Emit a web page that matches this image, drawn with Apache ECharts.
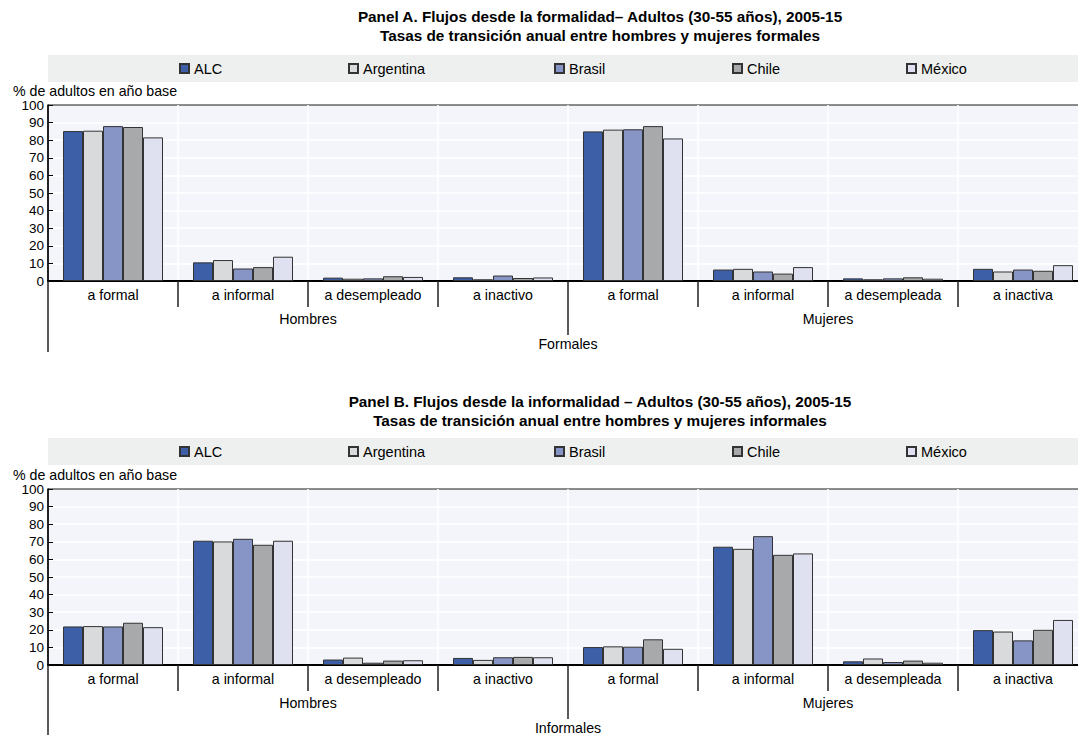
<!DOCTYPE html>
<html><head><meta charset="utf-8">
<script src="https://cdn.jsdelivr.net/npm/echarts@6/dist/echarts.min.js"></script>
<style>html,body{margin:0;padding:0;background:#fff}#c{width:1078px;height:735px}</style>
</head><body><div id="c"></div>
<script>
// ---- data ----
const categories = ['a formal','a informal','a desempleado','a inactivo','a formal','a informal','a desempleada','a inactiva'];
const groups = ['Hombres','Mujeres'];
const seriesNames = ['ALC','Argentina','Brasil','Chile','México'];
const yTicks = {min:0, max:100, step:10};
const titleA = ['Panel A. Flujos desde la formalidad– Adultos (30-55 años), 2005-15','Tasas de transición anual entre hombres y mujeres formales'];
const titleB = ['Panel B. Flujos desde la informalidad – Adultos (30-55 años), 2005-15','Tasas de transición anual entre hombres y mujeres informales'];
const yName = '% de adultos en año base';
const outerA = 'Formales';
const outerB = 'Informales';

const panelA_ALC       = [85.2, 10.6, 1.9, 2.1, 85.0, 6.5, 1.5, 6.9];
const panelA_Argentina = [85.4, 11.9, 1.3, 1.0, 86.0, 6.9, 1.0, 5.4];
const panelA_Brasil    = [88.0,  7.1, 1.5, 3.1, 86.2, 5.4, 1.5, 6.5];
const panelA_Chile     = [87.5,  7.9, 2.7, 1.7, 88.0, 4.2, 2.1, 5.8];
const panelA_Mexico    = [81.6, 13.8, 2.3, 2.0, 81.0, 7.9, 1.3, 9.0];

const panelB_ALC       = [21.9, 70.6, 3.1, 4.0, 10.2, 67.2, 2.1, 19.8];
const panelB_Argentina = [22.1, 70.2, 4.2, 2.9, 10.6, 66.0, 3.7, 19.0];
const panelB_Brasil    = [21.9, 71.7, 1.3, 4.4, 10.4, 73.2, 1.7, 14.0];
const panelB_Chile     = [24.0, 68.3, 2.5, 4.6, 14.6, 62.6, 2.5, 20.0];
const panelB_Mexico    = [21.5, 70.6, 2.7, 4.4,  9.2, 63.4, 1.3, 25.6];

// ---- style ----
const colors = ['#3c5fa7','#d9dadc','#8794c6','#a8a9ab','#dfe1f0'];
const FONT = "'Liberation Sans',Arial,sans-serif";
const panels = [
  {top:105, title:titleA, titleY:9, bandY:55, legendTop:61, outer:outerA, data:[panelA_ALC,panelA_Argentina,panelA_Brasil,panelA_Chile,panelA_Mexico]},
  {top:489, title:titleB, titleY:394, bandY:438, legendTop:444, outer:outerB, data:[panelB_ALC,panelB_Argentina,panelB_Brasil,panelB_Chile,panelB_Mexico]}
];
const legendX = [179, 348, 554, 732, 906];

const grid = [], xAxis = [], yAxis = [], series = [], legend = [], graphic = [];
panels.forEach((p, i) => {
  grid.push({left:48, width:1040, top:p.top, height:176, outerBoundsMode:'none', containLabel:false, show:true, backgroundColor:'#f4f5fa', borderColor:'#1a1a1a', borderWidth:1});
  const tickStyle = {color:'#222', width:1.5};
  xAxis.push({type:'category', gridIndex:i, data:categories, position:'bottom',
    axisLine:{lineStyle:{color:'#000', width:2}},
    axisTick:{show:true, interval:0, length:26, lineStyle:tickStyle},
    axisLabel:{interval:0, margin:7, fontSize:14.2, color:'#000', fontFamily:FONT},
    splitLine:{show:true, interval:0, showMinLine:false, showMaxLine:false, lineStyle:{color:'#ffffff', width:1.5}}});
  xAxis.push({type:'category', gridIndex:i, data:groups, position:'bottom', offset:26,
    axisLine:{show:false},
    axisTick:{show:true, interval:0, length:28, lineStyle:tickStyle},
    axisLabel:{interval:0, margin:5, fontSize:14.2, color:'#000', fontFamily:FONT},
    splitLine:{show:false}});
  xAxis.push({type:'category', gridIndex:i, data:[p.outer], position:'bottom', offset:54,
    axisLine:{show:false},
    axisTick:{show:true, interval:0, length:17, lineStyle:tickStyle},
    axisLabel:{interval:0, margin:2, fontSize:14.2, color:'#000', fontFamily:FONT},
    splitLine:{show:false}});
  yAxis.push({type:'value', gridIndex:i, min:yTicks.min, max:yTicks.max, interval:yTicks.step,
    axisLine:{show:true, lineStyle:{color:'#000', width:1.5}},
    axisTick:{show:true, inside:true, length:5, lineStyle:{color:'#000', width:1}},
    axisLabel:{fontSize:13.5, margin:4, color:'#000', fontFamily:FONT},
    splitLine:{show:true, showMinLine:false, showMaxLine:false, lineStyle:{color:'#ffffff', width:1.5}}});
  seriesNames.forEach((name, k) => {
    series.push({type:'bar', name, xAxisIndex:i*3, yAxisIndex:i, data:p.data[k],
      barWidth:20, barGap:'0%',
      itemStyle:{color:colors[k], borderColor:'#333', borderWidth:1}});
    legend.push({data:[name], left:legendX[k], top:p.legendTop, icon:'rect', itemWidth:9, itemHeight:9,
      selectedMode:false, padding:0, textStyle:{fontSize:14.5, color:'#000', fontFamily:FONT}});
  });
  graphic.push({type:'rect', z:-10, shape:{x:48, y:p.bandY, width:1030, height:27}, style:{fill:'#eef0ef'}});
  graphic.push({type:'text', x:13, y:p.top-21, style:{text:yName, fontSize:14.2, fontFamily:FONT, fill:'#000'}});
  graphic.push({type:'text', x:600, y:p.titleY, style:{text:p.title[0], align:'center', textAlign:'center', fontSize:15.3, fontWeight:'bold', fontFamily:FONT, fill:'#000'}});
  graphic.push({type:'text', x:600, y:p.titleY+19, style:{text:p.title[1], align:'center', textAlign:'center', fontSize:15.3, fontWeight:'bold', fontFamily:FONT, fill:'#000'}});
});

const chart = echarts.init(document.getElementById('c'), null, {renderer:'svg'});
chart.setOption({animation:false, backgroundColor:'#ffffff', grid, xAxis, yAxis, series, legend, graphic});
</script>
</body></html>
